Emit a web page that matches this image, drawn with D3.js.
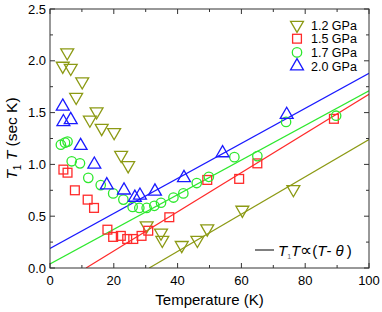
<!DOCTYPE html>
<html>
<head>
<meta charset="UTF-8">
<script src="https://d3js.org/d3.v7.min.js"></script>
<style>
  body { margin: 0; background: #fff; }
  text { font-family: "Liberation Sans", Arial, sans-serif; fill: #000; }
</style>
</head>
<body>
<svg id="chart" width="382" height="312"></svg>
<script>
// pressures and colours of the four series
const series = ["1.2 GPa", "1.5 GPa", "1.7 GPa", "2.0 GPa"];
const colors = ["#8c9a14", "#ff2a2a", "#2ee82e", "#1a1aff"];
const shapes = ["down", "square", "circle", "up"];

// 1.2 GPa
const t12 = [5.4, 4.0, 6.5, 10.1, 8.2, 14.6, 12.5, 16.2, 20.1, 22.3, 24.5, 30.3, 34.8, 35.2, 41.3, 46.2, 49.3, 60.3, 76.3];
const v12 = [2.08, 1.95, 1.93, 1.80, 1.65, 1.51, 1.43, 1.35, 1.31, 1.09, 0.99, 0.41, 0.34, 0.27, 0.22, 0.27, 0.38, 0.56, 0.76];
// 1.5 GPa
const t15 = [4.2, 5.5, 7.8, 11.8, 13.8, 18.0, 19.8, 22.2, 24.2, 26.1, 28.7, 30.8, 37.4, 49.3, 59.3, 65.0, 89.0];
const v15 = [0.95, 0.92, 0.75, 0.66, 0.58, 0.37, 0.30, 0.31, 0.28, 0.28, 0.31, 0.36, 0.49, 0.85, 0.86, 1.01, 1.44];
// 1.7 GPa
const t17 = [3.4, 4.7, 5.5, 6.8, 9.4, 12.0, 15.9, 19.8, 23.0, 25.9, 28.0, 30.3, 32.7, 34.8, 38.7, 41.8, 46.0, 49.8, 57.8, 65.0, 74.0, 89.7];
const v17 = [1.19, 1.21, 1.22, 1.03, 1.01, 0.87, 0.80, 0.72, 0.66, 0.59, 0.58, 0.58, 0.60, 0.63, 0.68, 0.72, 0.82, 0.88, 1.07, 1.08, 1.41, 1.47];
// 2.0 GPa
const t20 = [4.0, 4.2, 6.5, 9.6, 13.9, 17.8, 23.2, 26.6, 28.2, 32.9, 42.0, 54.1, 74.2];
const v20 = [1.56, 1.41, 1.43, 1.18, 1.00, 0.80, 0.75, 0.68, 0.70, 0.74, 0.87, 1.11, 1.48];

// fits T1T = a (T - theta)
const fitA = [0.0180, 0.0189, 0.0167, 0.0169];
const fitTheta = [31.1, 11.3, -2.4, -11.2];

const xTicks = [0, 20, 40, 60, 80, 100];
const yTicks = [0, 0.5, 1.0, 1.5, 2.0, 2.5];

const temps = [t12, t15, t17, t20];
const vals = [v12, v15, v17, v20];

const W = 382, H = 312;
const m = { left: 50, right: 13, top: 9, bottom: 44 };
const svg = d3.select("#chart");

const x = d3.scaleLinear().domain([0, 100]).range([m.left, W - m.right]);
const y = d3.scaleLinear().domain([0, 2.5]).range([H - m.bottom, m.top]);

// fit lines
svg.append("clipPath").attr("id", "pc").append("rect")
  .attr("x", m.left).attr("y", m.top)
  .attr("width", W - m.left - m.right).attr("height", H - m.top - m.bottom);

const lines = svg.append("g").attr("clip-path", "url(#pc)");
series.forEach((s, i) => {
  const t0 = Math.max(0, fitTheta[i]);
  lines.append("line")
    .attr("x1", x(t0)).attr("y1", y(fitA[i] * (t0 - fitTheta[i])))
    .attr("x2", x(100)).attr("y2", y(fitA[i] * (100 - fitTheta[i])))
    .attr("stroke", colors[i]).attr("stroke-width", 1.2);
});

function marker(g, shape, color) {
  if (shape === "circle") {
    g.append("circle").attr("r", 4.7);
  } else if (shape === "square") {
    g.append("rect").attr("x", -4.4).attr("y", -4.4).attr("width", 8.8).attr("height", 8.8);
  } else {
    const p = d3.symbol().type(d3.symbolTriangle).size(72)();
    g.append("path").attr("d", p)
      .attr("transform", shape === "down" ? "rotate(180)" : null);
  }
  g.selectAll("*").attr("fill", "none").attr("stroke", color).attr("stroke-width", 1.3);
}

// data points
series.forEach((s, i) => {
  const g = svg.append("g");
  temps[i].forEach((t, j) => {
    const pt = g.append("g").attr("transform", `translate(${x(t)},${y(vals[i][j])})`);
    marker(pt, shapes[i], colors[i]);
  });
});

// frame and ticks
const frameColor = "#333";
svg.append("rect")
  .attr("x", m.left).attr("y", m.top)
  .attr("width", W - m.left - m.right).attr("height", H - m.top - m.bottom)
  .attr("fill", "none").attr("stroke", frameColor).attr("stroke-width", 1);

const tk = svg.append("g").attr("stroke", frameColor).attr("stroke-width", 1);
d3.range(0, 101, 10).forEach(v => {
  const len = v % 20 === 0 ? 5 : 3;
  tk.append("line").attr("x1", x(v)).attr("x2", x(v)).attr("y1", y(0)).attr("y2", y(0) - len);
  tk.append("line").attr("x1", x(v)).attr("x2", x(v)).attr("y1", y(2.5)).attr("y2", y(2.5) + len);
});
d3.range(0, 2.51, 0.25).forEach(v => {
  const len = Math.abs(v * 2 - Math.round(v * 2)) < 1e-6 ? 5 : 3;
  tk.append("line").attr("y1", y(v)).attr("y2", y(v)).attr("x1", x(0)).attr("x2", x(0) + len);
  tk.append("line").attr("y1", y(v)).attr("y2", y(v)).attr("x1", x(100)).attr("x2", x(100) - len);
});

svg.append("g").selectAll("text").data(xTicks).join("text")
  .attr("x", d => x(d)).attr("y", y(0) + 17)
  .attr("text-anchor", "middle").attr("font-size", 13).text(d => d);
svg.append("g").selectAll("text").data(yTicks).join("text")
  .attr("x", m.left - 4).attr("y", d => y(d) + 4.5)
  .attr("text-anchor", "end").attr("font-size", 13).text(d => d.toFixed(1));

// axis titles
svg.append("text").attr("x", x(50)).attr("y", 305)
  .attr("text-anchor", "middle").attr("font-size", 15).text("Temperature (K)");

const yl = svg.append("text")
  .attr("transform", `translate(17,${y(1.25)}) rotate(-90)`)
  .attr("text-anchor", "middle").attr("font-size", 15.5);
yl.append("tspan").attr("font-style", "italic").text("T");
yl.append("tspan").attr("font-size", 10).attr("dy", 4).text("1");
yl.append("tspan").attr("dy", -4).attr("font-style", "italic").text(" T");
yl.append("tspan").text(" (sec K)");

// legend
const lg = svg.append("g");
series.forEach((s, i) => {
  const ly = 25 + i * 13.7;
  const g = lg.append("g").attr("transform", `translate(297,${ly})`);
  marker(g, shapes[i], colors[i]);
  lg.append("text").attr("x", 311).attr("y", ly + 4.5)
    .attr("font-size", 12.5).text(s);
});

// fit legend
svg.append("line").attr("x1", 255).attr("x2", 274).attr("y1", 250).attr("y2", 250)
  .attr("stroke", "#000").attr("stroke-width", 1);
const fl = svg.append("text").attr("x", 278).attr("y", 255.5).attr("font-size", 15);
fl.append("tspan").attr("font-style", "italic").text("T");
fl.append("tspan").attr("font-size", 7).attr("dy", 3).attr("fill", "#666").text("1");
fl.append("tspan").attr("dy", -3).attr("font-style", "italic").text("T");
fl.append("tspan").attr("font-size", 17).text("\u221D");
fl.append("tspan").text("(");
fl.append("tspan").attr("font-style", "italic").text("T");
fl.append("tspan").text("- ");
fl.append("tspan").attr("font-style", "italic").text("\u03B8");
fl.append("tspan").text("\u2009)");
</script>
</body>
</html>
